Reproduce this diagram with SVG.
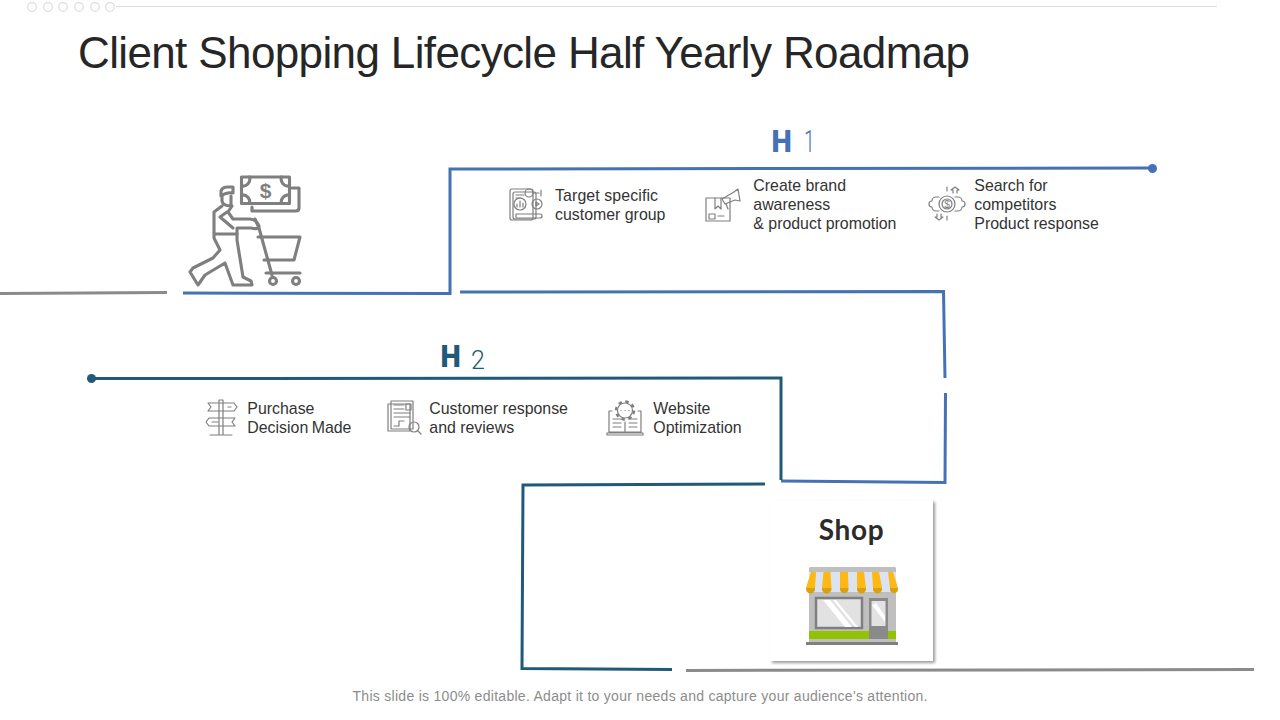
<svg xmlns="http://www.w3.org/2000/svg" width="1280" height="720" viewBox="0 0 1280 720">
<style>
text{font-family:"Liberation Sans",Arial,sans-serif}
text.hb{font-family:Roboto,sans-serif;font-size:32px;font-weight:900}
text.hn{font-family:Roboto,sans-serif;font-weight:300}
text.sh{font-family:Lato,sans-serif;font-size:28px;font-weight:700;letter-spacing:.6px;fill:#2b2b2b}
.t{font-size:15.9px;fill:#333}
.blue{fill:none;stroke:#4472b4;stroke-width:3}
.teal{fill:none;stroke:#215a78;stroke-width:3}
.gray{fill:none;stroke:#8a8a8a;stroke-width:3}
.ic{fill:none;stroke:#7f7f7f;stroke-width:1.2;stroke-linejoin:round;stroke-linecap:round}
.big{fill:none;stroke:#7f7f7f;stroke-width:3.100;stroke-linejoin:round;stroke-linecap:round}
</style>
<defs><filter id="sh" x="-10%" y="-10%" width="120%" height="120%"><feGaussianBlur stdDeviation="1.5"/></filter></defs>
<rect width="1280" height="720" fill="#fff"/>

<g id="header">
<g fill="#fff" stroke="#dcdcdc" stroke-width="1.2"><circle cx="32" cy="7" r="4.3"/><circle cx="48" cy="7" r="4.3"/><circle cx="63" cy="7" r="4.3"/><circle cx="79" cy="7" r="4.3"/><circle cx="95" cy="7" r="4.3"/><circle cx="110" cy="7" r="4.3"/></g>
<line x1="116" y1="6.5" x2="1217" y2="6.5" stroke="#dcdcdc" stroke-width="1"/>
<text x="78" y="68" font-size="44" fill="#262626" textLength="892">Client Shopping Lifecycle Half Yearly Roadmap</text>
</g>

<g id="connectors">
<path class="gray" d="M0 293.500 L167 292.500"/>
<path class="blue" d="M183 293 L450 293.500 L450 169 L1152 168"/>
<circle cx="1152.500" cy="168.500" r="4.500" fill="#4472b4"/>
<path class="blue" d="M460 292 L943.500 291.500 L945 378"/>
<path class="blue" d="M945.500 393 L945 482.500 L781 481"/>
<path class="teal" d="M781 480 L781 378 L92 378.500"/>
<circle cx="91.500" cy="378.500" r="4.500" fill="#215a78"/>
<path class="teal" d="M765 484 L523 485 L522 668.500 L672 669.500"/>
<path class="gray" d="M686 670.500 L1254 669.500"/>
</g>

<g id="h1"><text class="hb" transform="translate(771.500 152) scale(.9 1)" fill="#4472b4">H</text><text class="hn" transform="translate(804 152) scale(.6 1)" font-size="32" fill="#4472b4">1</text></g>
<g id="h2"><text class="hb" transform="translate(440.500 367) scale(.9 1)" fill="#215a78">H</text><text class="hn" x="471" y="369" font-size="25" fill="#215a78">2</text></g>

<g id="shopper">
<rect class="big" x="241.500" y="177" width="48" height="26.500"/>
<path class="big" d="M241.500 186 a7 7 0 0 0 8 -9 M289.500 186 a7 7 0 0 1 -8 -9 M241.500 195 a7 7 0 0 1 8 8.500 M289.500 195 a7 7 0 0 0 -8 8.500"/>
<text x="265.500" y="198" font-size="21" font-weight="bold" fill="#7f7f7f" text-anchor="middle">$</text>
<path class="big" d="M292 188 H299 V208 Q299 211 296 211 H252 V207"/>
<path class="big" d="M221 196 V191 Q222 187 228 187 H233 V193 Q226 192 221 196 M222 196 V201 Q223 206 231 206 V196"/>
<path class="big" d="M222 206 L214 212 V238 L220 250 L213 258 L193 268 L190 272 L198 285 L205 275 L225 263 L233 285 H252 L251 281 L243 277 L237 240 V228 H251 Q259 230 259 226 Q256 219 249 219 H233 L228 212 L232 206"/>
<path class="big" d="M215 234 H237 M220 217 L233 228 M220 217 L227 212"/>
<path class="big" d="M255 219 L259 228 L272 275 M258 237 H300 L294 260 H264 M266 273 H300"/>
<circle class="big" cx="273" cy="281" r="3.500"/><circle class="big" cx="296" cy="281" r="3.500"/>
</g>

<g id="item-target">
<rect class="ic" x="510" y="189" width="23" height="31" rx="2"/>
<rect class="ic" x="513" y="192" width="23" height="27" rx="2" fill="#fff"/>
<circle class="ic" cx="520" cy="204" r="6"/>
<path class="ic" d="M517 207 v-3 M520 207 v-6 M523 207 v-4 M516 195 h8 M516 198 h5 M516 214 h24 a2 2 0 0 1 0 4 h-24 z"/>
<circle class="ic" cx="529" cy="193" r="4"/><path class="ic" d="M533 193 h6 M541 190 v6"/>
<circle class="ic" cx="537" cy="204" r="5" fill="#fff"/><path class="ic" d="M536 202 l3 2 l-3 2 z"/>
</g>
<text class="t"><tspan x="555" y="201" textLength="103">Target specific</tspan><tspan x="555" y="220">customer group</tspan></text>

<g id="item-brand">
<rect class="ic" x="706" y="198" width="24" height="23"/>
<path class="ic" d="M715 198 v11 l3 -3 l3 3 v-11 M709 214 h6 v5 h-6 z M718 216 h6"/>
<path class="ic" d="M722 199 L734 192 L738 189 L740 201 L735 200 L725 204 Z M726 204 l2 5"/>
</g>
<text class="t"><tspan x="753.300" y="191">Create brand</tspan><tspan x="753.300" y="210">awareness</tspan><tspan x="753.300" y="229">&amp; product promotion</tspan></text>

<g id="item-search">
<circle class="ic" cx="947" cy="204" r="8"/><circle class="ic" cx="947" cy="204" r="5"/>
<path class="ic" d="M939 197 h-3 a4 4 0 0 0 -4 4 a3 3 0 0 0 0 6 a4 4 0 0 0 4 4 h3 M955 197 h3 a4 4 0 0 1 4 4 a3 3 0 0 1 0 6 a4 4 0 0 1 -4 4 h-3"/>
<path class="ic" d="M947 187 v4 M947 216 v4 M953 193 v-3 h-2 l4 -3 l4 3 h-2 v3 M937 214 v3 h-2 l4 3 l4 -3 h-2 v-3" />
<text x="947" y="208" font-size="10" fill="#7f7f7f" text-anchor="middle">$</text>
</g>
<text class="t"><tspan x="974.300" y="191">Search for</tspan><tspan x="974.300" y="210">competitors</tspan><tspan x="974.300" y="229">Product response</tspan></text>

<g id="item-purchase">
<path class="ic" d="M219 400 h4 v35 h-4 z M210 435 h22"/>
<path class="ic" d="M208 403 h26 l3 4 l-3 4 h-26 l3 -4 z M235 418 h-26 l-3 4 l3 4 h26 l-3 -4 z M228 407 h3 M212 422 h6"/>
</g>
<text class="t"><tspan x="247.300" y="414">Purchase</tspan><tspan x="247.300" y="433" word-spacing="-1">Decision Made</tspan></text>

<g id="item-reviews">
<rect class="ic" x="388" y="404" width="22" height="27"/>
<rect class="ic" x="391" y="401" width="22" height="28" fill="#fff"/>
<path class="ic" d="M394 405 h10 M394 409 h10 M394 413 h16 M394 417 h16 M394 426 h5 v-5 h5 M406 404 h5 v6 h-5 z"/>
<circle class="ic" cx="414" cy="427" r="5" fill="#fff"/>
<path class="ic" d="M418 431 l3 3" stroke-width="2"/>
</g>
<text class="t"><tspan x="429.300" y="414">Customer response</tspan><tspan x="429.300" y="433">and reviews</tspan></text>

<g id="item-website">
<path class="ic" d="M612 411 h-3 v21 h32 v-21 h-3 M607 433 h36 v2 h-36 z M613 419 h8 M613 423 h8 M613 427 h8 M629 419 h8 M629 423 h8 M629 427 h8 M625 422 v10"/>
<circle cx="625" cy="410.500" r="9" fill="none" stroke="#7f7f7f" stroke-width="2.400" stroke-dasharray="3.500 3.570"/>
<circle class="ic" cx="625" cy="410.500" r="7.500" fill="#fff"/>
<path class="ic" d="M621 410.500 h.1 M625 410.500 h.1 M629 410.500 h.1" stroke-width="1.800"/>
</g>
<text class="t"><tspan x="653.300" y="414">Website</tspan><tspan x="653.300" y="433">Optimization</tspan></text>

<g id="shop">
<rect x="772" y="502" width="163" height="161" fill="#9a9a9a" filter="url(#sh)"/>
<rect x="770" y="500" width="163" height="161" fill="#fff"/>
<text class="sh" x="851.500" y="540" text-anchor="middle">Shop</text>
<rect x="809" y="567" width="87" height="76" rx="1.500" fill="#bfbfbf"/>
<rect x="809" y="572" width="87" height="20" fill="#dbe3f0"/>
<path d="M811 572 H816 L815 588 H806Z M823.500 572 H830.500 L831.500 588 H822Z M840 572 H848 L848.500 588 H840Z M857 572 H864 L866 588 H857Z M872 572 H879 L882 588 H873Z M888 572 H893 L898 588 H890Z" fill="#fdb813"/>
<path d="M806 588 h9 v1 a4.500 4.500 0 0 1 -9 0z M822 588 h9.500 v1 a4.750 4.750 0 0 1 -9.500 0z M840 588 h8.500 v1 a4.250 4.250 0 0 1 -8.500 0z M857 588 h9 v1 a4.500 4.500 0 0 1 -9 0z M873 588 h9 v1 a4.500 4.500 0 0 1 -9 0z M890 588 h8 v1 a4 4 0 0 1 -8 0z" fill="#d9a011"/>
<rect x="816" y="598" width="46" height="30" fill="#e2e2e2" stroke="#7f7f7f" stroke-width="2.500"/>
<path d="M823 600 L845 627 H852 L830 600Z M833 600 L855 627 H858 L836 600Z" fill="#fff"/>
<rect x="809" y="631" width="87" height="8" fill="#92c300"/>
<rect x="869" y="598" width="19" height="41" fill="#8a8a8a"/>
<rect x="871.500" y="601" width="14" height="25" fill="#e2e2e2"/>
<path d="M872 605 L885 622 V616 L876 603Z" fill="#fff"/>
<rect x="806" y="642" width="92" height="3" fill="#808080"/>
</g>

<text id="footer" x="640" y="701" font-size="14" fill="#8c8c8c" text-anchor="middle" textLength="575">This slide is 100% editable. Adapt it to your needs and capture your audience's attention.</text>
</svg>
